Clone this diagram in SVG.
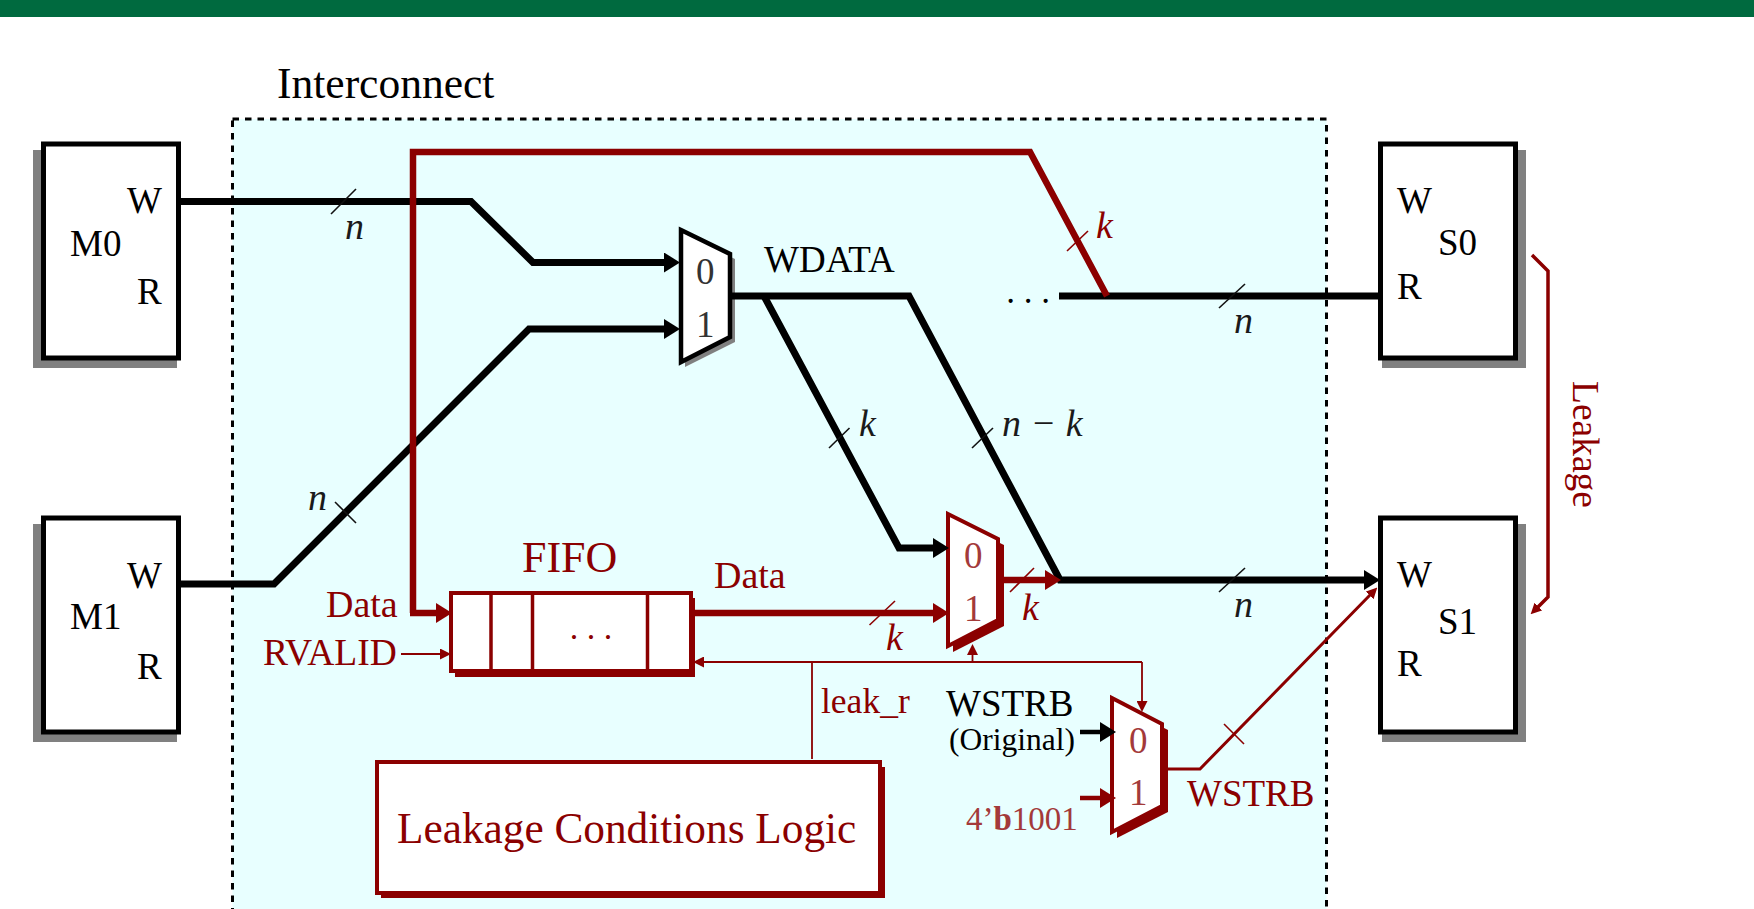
<svg xmlns="http://www.w3.org/2000/svg" width="1754" height="909" viewBox="0 0 1754 909">
<style>
text{font-family:"Liberation Serif","Times New Roman",serif;font-size:37px;fill:#000}
.r{fill:#8b0000}
.m{font-style:italic;fill:#1a1a1a;font-size:38px}
.mr{font-style:italic;fill:#8b0000;font-size:38px}
.d{fill:#333}
.dr{fill:#a33a3a}
.box{fill:#fff;stroke:#000;stroke-width:5}
.sh{fill:#808080}
.rsh{fill:#8b0000}
.rbox{fill:#fff;stroke:#8b0000;stroke-width:4}
.k{fill:none;stroke:#000;stroke-width:7}
.kr{fill:none;stroke:#8b0000;stroke-width:6.5}
.t{fill:none;stroke:#8b0000;stroke-width:1.8}
.tick{stroke:#111;stroke-width:1.6;fill:none}
.tickr{stroke:#8b0000;stroke-width:1.6;fill:none}
</style>
<defs>
<marker id="ak" markerUnits="userSpaceOnUse" markerWidth="16" markerHeight="20" viewBox="0 0 16 20" refX="3" refY="10" orient="auto"><path d="M0 0L16 10L0 20Z" fill="#000"/></marker>
<marker id="ar" markerUnits="userSpaceOnUse" markerWidth="16" markerHeight="20" viewBox="0 0 16 20" refX="3" refY="10" orient="auto"><path d="M0 0L16 10L0 20Z" fill="#8b0000"/></marker>
<marker id="as" markerUnits="userSpaceOnUse" markerWidth="11" markerHeight="11" viewBox="0 0 11 11" refX="2" refY="5.5" orient="auto"><path d="M0 0L11 5.500L0 11Z" fill="#8b0000"/></marker>
</defs>
<rect id="top-bar" x="0" y="0" width="1754" height="17" fill="#006a3f"/>
<g transform="translate(0 1)">
<g id="interconnect">
<rect x="232.5" y="118" width="1094" height="810" fill="#e8ffff" stroke="#000" stroke-width="3" stroke-dasharray="6.500 6"/>
<text x="277" y="97" style="font-size:43.500px">Interconnect</text>
</g>
<g id="m0">
<rect class="sh" x="33" y="149" width="144" height="218"/>
<rect class="box" x="43.500" y="143" width="135" height="214"/>
<text x="127" y="212">W</text><text x="70" y="255">M0</text><text x="137" y="303">R</text>
</g>
<g id="m1">
<rect class="sh" x="33" y="523" width="144" height="218"/>
<rect class="box" x="43.500" y="517" width="135" height="214"/>
<text x="127" y="587">W</text><text x="70" y="628">M1</text><text x="137" y="678">R</text>
</g>
<g id="s0">
<rect class="sh" x="1382" y="149" width="144" height="218"/>
<rect class="box" x="1380.500" y="143" width="135" height="214"/>
<text x="1397" y="212">W</text><text x="1438" y="254">S0</text><text x="1397" y="298">R</text>
</g>
<g id="s1">
<rect class="sh" x="1382" y="523" width="144" height="218"/>
<rect class="box" x="1380.500" y="517" width="135" height="214"/>
<text x="1397" y="586">W</text><text x="1438" y="633">S1</text><text x="1397" y="675">R</text>
</g>
<g id="mux-top">
<path class="sh" d="M685 234L735 258V341L685 366Z"/>
<path class="box" style="stroke-width:4.500" d="M681 229L730 253V336L681 361Z"/>
<text class="d" x="696" y="283">0</text><text class="d" x="696" y="336">1</text>
</g>
<g id="mux-data">
<path class="rsh" d="M953 519L1004 544V625L953 651Z"/>
<path class="rbox" d="M948 513L998 538V619L948 645Z"/>
<text class="dr" x="964" y="567">0</text><text class="dr" x="964" y="620">1</text>
</g>
<g id="mux-strb">
<path class="rsh" d="M1117 703L1168 729V811L1117 837Z"/>
<path class="rbox" d="M1112 697L1162 723V805L1112 831Z"/>
<text class="dr" x="1129" y="752">0</text><text class="dr" x="1129" y="804">1</text>
</g>
<g id="fifo">
<rect class="rsh" x="455" y="597" width="240" height="79"/>
<rect class="rbox" x="451" y="592" width="240" height="78"/>
<path d="M491 592V670M532.500 592V670M647.500 592V670" stroke="#8b0000" stroke-width="3.500" fill="none"/>
<text class="r" x="591" y="638" text-anchor="middle" style="font-size:34px">. . .</text>
<text class="r" x="522" y="571" style="font-size:44px">FIFO</text>
</g>
<g id="logic">
<rect class="rsh" x="381" y="766" width="504" height="131"/>
<rect class="rbox" x="377" y="761" width="503" height="131"/>
<text class="r" x="397" y="842" style="font-size:43.300px">Leakage Conditions Logic</text>
</g>
<g id="connectors">
<path class="k" d="M180 200.500H471L533 261.500H667" marker-end="url(#ak)"/>
<path class="k" d="M180 583H274L529 328H667" marker-end="url(#ak)"/>
<path class="k" d="M731 295H909L1060 579H1367" marker-end="url(#ak)"/>
<path class="k" d="M764 295L899 547H936" marker-end="url(#ak)"/>
<path class="k" d="M1059 295H1380"/>
<path class="kr" d="M413 612V151H1030L1107 295"/>
<path class="kr" d="M410 612H439" marker-end="url(#ar)"/>
<path class="kr" d="M693 612H936" marker-end="url(#ar)"/>
<path class="kr" d="M1000 579H1048" marker-end="url(#ar)"/>
<path class="t" d="M401 653H442" marker-end="url(#as)"/>
<path class="t" d="M812 758V661"/>
<path class="t" d="M1142 661H702" marker-end="url(#as)"/>
<path class="t" d="M1142 661V702" marker-end="url(#as)"/>
<path class="t" d="M972.500 661V652" marker-end="url(#as)"/>
<path class="t" style="stroke-width:3" d="M1167 768H1200L1371 593" marker-end="url(#as)"/>
<path class="kr" style="stroke-width:3.500" d="M1532 254L1548 270V596L1537 607" marker-end="url(#as)"/>
<path d="M1080 731H1103" class="k" style="stroke-width:4.500" marker-end="url(#ak)"/>
<path d="M1080 797H1103" class="kr" style="stroke-width:4.500" marker-end="url(#ar)"/>
<path class="tick" d="M331 213L356 188"/>
<path class="tick" d="M335 501L356 522"/>
<path class="tick" d="M829 447L849.500 427"/>
<path class="tick" d="M972 447L993 427"/>
<path class="tick" d="M1219 307L1245 283"/>
<path class="tick" d="M1219 591L1245 567"/>
<path class="tickr" d="M1067 250L1088 230"/>
<path class="tickr" d="M869.500 624L895 600"/>
<path class="tickr" d="M1010 591L1034 567"/>
<path class="tickr" d="M1224 723L1244 743"/>
</g>
<g id="labels">
<text x="764" y="271">WDATA</text>
<text x="1028" y="302" text-anchor="middle" style="font-size:35px">. . .</text>
<text class="m" x="345" y="238">n</text>
<text class="m" x="308" y="509">n</text>
<text class="m" x="1234" y="332">n</text>
<text class="m" x="1234" y="616">n</text>
<text class="m" x="859" y="435">k</text>
<text class="m" x="1002" y="435">n − k</text>
<text class="mr" x="1096" y="237">k</text>
<text class="mr" x="886" y="649">k</text>
<text class="mr" x="1022" y="619">k</text>
<text class="r" x="326" y="616" style="font-size:38px">Data</text>
<text class="r" x="714" y="587" style="font-size:38px">Data</text>
<text class="r" x="263" y="664" style="font-size:37.500px">RVALID</text>
<text class="r" x="821" y="712" style="font-size:35.500px">leak_r</text>
<text x="946" y="715">WSTRB</text>
<text x="949" y="749" style="font-size:31.500px">(Original)</text>
<text class="dr" x="966" y="829" style="font-size:33px">4’<tspan font-weight="bold">b</tspan>1001</text>
<text class="r" x="1187" y="805">WSTRB</text>
<text class="r" transform="translate(1573 380) rotate(90)" style="font-size:37.500px">Leakage</text>
</g>
</g>
</svg>
